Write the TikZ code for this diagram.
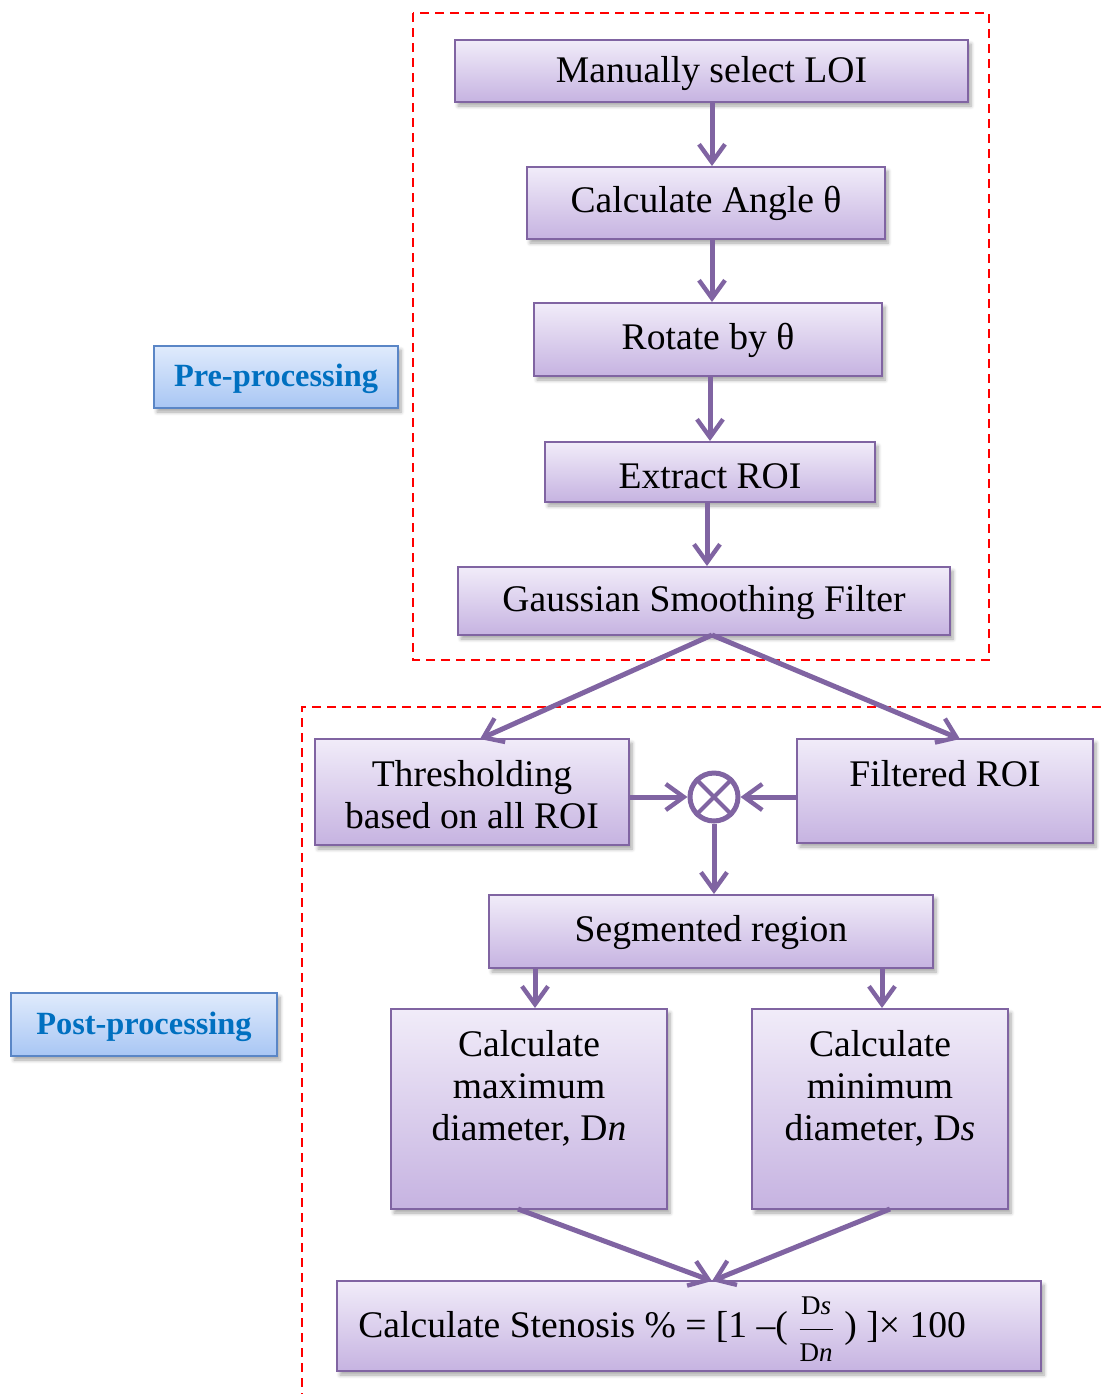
\documentclass[tikz,border=0pt]{standalone}
\usepackage{fontspec}
\setmainfont{Liberation Serif}
\usetikzlibrary{arrows.meta,shadows,shadows.blur}
\definecolor{flowpurple}{HTML}{8064A2}
\definecolor{boxtop}{HTML}{F1ECF9}
\definecolor{boxbottom}{HTML}{C6B3E1}
\definecolor{labtop}{HTML}{E0EBFC}
\definecolor{labbottom}{HTML}{A8C6F4}
\definecolor{labedge}{HTML}{5A86C6}
\definecolor{labtext}{HTML}{0070C0}
\tikzset{
  stepbox/.style={draw=flowpurple, line width=1pt, top color=boxtop, bottom color=boxbottom,
    blur shadow={shadow xshift=1.5pt, shadow yshift=-2pt, shadow opacity=35, shadow blur steps=6},
    inner sep=0pt},
  phasebox/.style={draw=labedge, line width=0.8pt, top color=labtop, bottom color=labbottom,
    blur shadow={shadow xshift=1.5pt, shadow yshift=-2pt, shadow opacity=35, shadow blur steps=6},
    inner sep=0pt},
  phasetxt/.style={text=labtext, font=\fontsize{16.2}{19}\selectfont\bfseries, inner sep=0pt},
  txt/.style={font=\fontsize{18.8}{21}\selectfont, align=center, inner sep=0pt},
  flow/.style={draw=flowpurple, line width=2.5pt, -{Straight Barb[length=9pt,width=13pt,line width=2.2pt]}},
  region/.style={draw=red, line width=1pt, dash pattern=on 4.5pt off 3pt},
  mixer/.style={circle, draw=flowpurple, line width=2.5pt, fill=white, minimum size=24pt, inner sep=0pt}
}
\begin{document}
\begin{tikzpicture}[x=0.5pt,y=-0.5pt]
\useasboundingbox (0,0) rectangle (1101,1394);

% dashed regions
\draw[region] (413,13) rectangle (989,660);
\draw[region] (1101,707) -- (302,707) -- (302,1394);

% phase labels
\node[phasebox, minimum width=122pt, minimum height=31pt] (pre) at (276,377) {};
\node[phasetxt] (pret) at (276,379) {Pre-processing};
\node[phasebox, minimum width=133pt, minimum height=31.5pt] (post) at (144,1024.5) {};
\node[phasetxt] (postt) at (144,1026.5) {Post-processing};

% pre-processing chain
\node[stepbox, minimum width=256.5pt, minimum height=31pt] (loi) at (711.5,71) {};
\node[txt] (loit) at (711.5,74) {Manually select LOI};
\node[stepbox, minimum width=179pt, minimum height=36pt] (ang) at (706,203) {};
\node[txt] (angt) at (706,203) {Calculate Angle θ};
\node[stepbox, minimum width=174pt, minimum height=36.5pt] (rot) at (708,339.5) {};
\node[txt] (rott) at (708,340) {Rotate by θ};
\node[stepbox, minimum width=165pt, minimum height=30pt] (roi) at (710,472) {};
\node[txt] (roit) at (710,476) {Extract ROI};
\node[stepbox, minimum width=246pt, minimum height=34pt] (gau) at (704,601) {};
\node[txt] (gaut) at (704,603) {Gaussian Smoothing Filter};

% post-processing
\node[stepbox, minimum width=157pt, minimum height=53pt] (thr) at (472,792) {};
\node[txt] (thrt) at (472,795) {Thresholding\\based on all ROI};
\node[stepbox, minimum width=148pt, minimum height=52pt] (fil) at (945,791) {};
\node[txt] (filt) at (945,774) {Filtered ROI};
\node[mixer] (mix) at (714,797) {};
\draw[flowpurple, line width=2pt] (mix.45) -- (mix.225) (mix.135) -- (mix.315);
\node[stepbox, minimum width=222pt, minimum height=36.5pt] (seg) at (711,931.5) {};
\node[txt] (segt) at (711,932) {Segmented region};
\node[stepbox, minimum width=138pt, minimum height=100pt] (dmax) at (529,1109) {};
\node[txt] (dmaxt) at (529,1088) {Calculate\\maximum\\diameter, D\textit{n}};
\node[stepbox, minimum width=128pt, minimum height=100pt] (dmin) at (880,1109) {};
\node[txt] (dmint) at (880,1088) {Calculate\\minimum\\diameter, D\textit{s}};
\node[stepbox, minimum width=352pt, minimum height=45pt] (sten) at (689,1326) {};
\node[txt, anchor=west] (stent) at (358,1329) {Calculate Stenosis \% = [1 –(
  $\displaystyle\frac{\mbox{\fontsize{13.5}{13.5}\selectfont D\textit{s}}}{\mbox{\fontsize{13.5}{13.5}\selectfont D\textit{n}}}$
  ) ]× 100};

% connectors
\coordinate (a1) at (712,102);
\draw[flow] (a1) -- (a1 |- ang.north);
\coordinate (a2) at (712,239);
\draw[flow] (a2) -- (a2 |- rot.north);
\coordinate (a3) at (710,376);
\draw[flow] (a3) -- (a3 |- roi.north);
\coordinate (a4) at (707,502);
\draw[flow] (a4) -- (a4 |- gau.north);
\coordinate (gs) at (712,635);
\coordinate (thrin) at (480,739);
\coordinate (filin) at (960,739);
\draw[flow] (gs) -- (thrin);
\draw[flow] (gs) -- (filin);
\draw[flow] (thr.east |- mix) -- (mix.west);
\draw[flow] (fil.west |- mix) -- (mix.east);
\draw[flow] (mix.south) -- (mix.south |- seg.north);
\coordinate (s1) at (535,968);
\coordinate (s2) at (882,968);
\draw[flow] (s1) -- (s1 |- dmax.north);
\draw[flow] (s2) -- (s2 |- dmin.north);
\coordinate (m1) at (518,1209);
\coordinate (m2) at (890,1209);
\coordinate (stin) at (712,1281);
\draw[flow] (m1) -- (stin);
\draw[flow] (m2) -- (stin);
\end{tikzpicture}
\end{document}
